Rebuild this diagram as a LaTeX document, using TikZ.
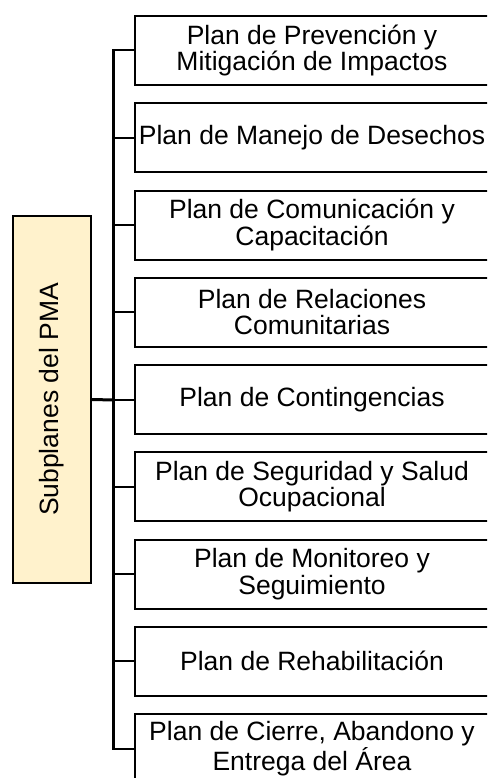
\documentclass[tikz,border=0pt]{standalone}
\usepackage{fontspec}
\setmainfont{Liberation Sans}
\begin{document}
\begin{tikzpicture}[x=1pt,y=1pt,
  planbox/.style={draw=black, line width=2pt, fill=white, minimum width=354pt, minimum height=69pt, inner sep=0pt, align=center, font=\fontsize{26.5}{26.5}\selectfont},
  rootbox/.style={draw=black, line width=2pt, fill=cream, minimum width=78pt, minimum height=367pt, inner sep=0pt},
  tick/.style={line width=2pt},
  bus/.style={line width=3pt}]
\definecolor{cream}{HTML}{FFF2CC}
\clip (0,0) rectangle (487,-778);
\useasboundingbox (0,0) rectangle (487,-778);
\node[rootbox] (root) at (52,-399.5) {};
\node[rotate=90, font=\fontsize{26.5}{26.5}\selectfont] (rootlabel) at (root.center) {Subplanes del PMA};
\foreach \i/\t in {1/{Plan de Prevención y\\Mitigación de Impactos},
                   2/{Plan de Manejo de Desechos},
                   3/{Plan de Comunicación y\\Capacitación},
                   4/{Plan de Relaciones\\Comunitarias},
                   5/{Plan de Contingencias},
                   6/{Plan de Seguridad y Salud\\Ocupacional},
                   7/{Plan de Monitoreo y\\Seguimiento},
                   8/{Plan de Rehabilitación},
                   9/{Plan de Cierre, Abandono y\\Entrega del Área}} {
  \node[planbox] (b\i) at (312, {-(50.5 + 87.25*(\i-1))}) {\t};
  \coordinate (t\i) at (113.5, {-(50.5 + 87.25*(\i-1))});
  \draw[tick] (t\i) -- (b\i.west);
}
\coordinate (hub) at (113.5,-400);
\draw[bus] ([yshift=1pt]t1) -- ([yshift=-1pt]t9);
\draw[line width=3pt] (root.east) -- (hub);
\end{tikzpicture}
\end{document}
